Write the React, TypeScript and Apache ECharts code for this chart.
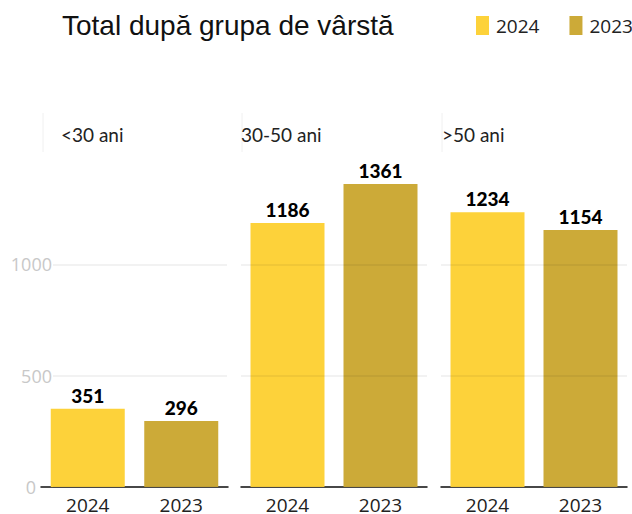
import React, { useEffect, useRef } from "react";
import * as echarts from "echarts";

const title = "Total după grupa de vârstă";
const years = ["2024", "2023"];
const panels = ["<30 ani", "30-50 ani", ">50 ani"];
const values2024 = [351, 1186, 1234];
const values2023 = [296, 1361, 1154];
const yScale = { min: 0, max: 1500, interval: 500 };
const yTickScale = { min: 0, max: 1000, interval: 500 };

const C2024 = "#FDD23A";
const C2023 = "#CCAA38";

export default function App() {
  const ref = useRef<HTMLDivElement>(null);
  useEffect(() => {
    if (!ref.current) return;
    const chart = echarts.init(ref.current, null, { renderer: "svg" });
    const lefts = [41, 241, 441];
    const widths = [187, 186, 186];
    const top = 153;
    const bottom = 27;
    const plotH = 514 - top - bottom;
    const tickTop = top + plotH * (1 - yTickScale.max / yScale.max);
    const grids: any[] = [];
    const xAxes: any[] = [];
    const yAxes: any[] = [];
    const series: any[] = [];
    const graphics: any[] = [];
    panels.forEach((p, i) => {
      grids.push({ left: lefts[i], width: widths[i], top, bottom, containLabel: false });
      xAxes.push({
        type: "category",
        gridIndex: i,
        data: years,
        axisLine: { lineStyle: { color: "#111", width: 1.5 } },
        axisTick: { show: false },
        axisLabel: { color: "#222", fontSize: 19, fontFamily: "Open Sans", margin: 8 },
      });
      yAxes.push({
        type: "value",
        gridIndex: i,
        ...yScale,
        axisLabel: { show: false },
        axisLine: { show: false },
        axisTick: { show: false },
        splitLine: { show: false },
      });
      const lbl = {
        show: true,
        position: "top",
        distance: 4,
        color: "#000",
        fontSize: 19,
        fontWeight: 900,
        fontFamily: "Lato",
      };
      series.push({
        name: years[0],
        type: "bar",
        xAxisIndex: i,
        yAxisIndex: i,
        stack: "p" + i,
        barWidth: 74,
        itemStyle: { color: C2024 },
        label: lbl,
        data: [values2024[i], "-"],
      });
      series.push({
        name: years[1],
        type: "bar",
        xAxisIndex: i,
        yAxisIndex: i,
        stack: "p" + i,
        barWidth: 74,
        itemStyle: { color: C2023 },
        label: lbl,
        data: ["-", values2023[i]],
      });
      const lx = [43, 242, 442][i];
      graphics.push({
        type: "line",
        shape: { x1: lx, y1: 113, x2: lx, y2: 152 },
        style: { stroke: "#f0f0f0", lineWidth: 1 },
      });
      graphics.push({
        type: "text",
        x: [61, 241, 442][i],
        y: 134,
        style: {
          text: p,
          fill: "#222",
          font: "19px Lato",
          textVerticalAlign: "middle",
        },
      });
    });
    // gridline-only grids (drawn above the bars)
    const gl = [
      { left: 53, width: 174 },
      { left: 241, width: 186 },
      { left: 441, width: 186 },
    ];
    gl.forEach((g, k) => {
      const gi = grids.length;
      grids.push({ left: g.left, width: g.width, top: tickTop, bottom });
      xAxes.push({ type: "category", gridIndex: gi, data: years, show: false });
      yAxes.push({
        type: "value",
        gridIndex: gi,
        ...yTickScale,
        z: 5,
        axisLine: { show: false },
        axisTick: { show: false },
        axisLabel: {
          show: k === 0,
          color: "#c8c8c8",
          fontSize: 18,
          fontFamily: "Open Sans",
          margin: 1,
          formatter: (v: number) => (v === 0 ? "{z|0}" : String(v)),
          rich: { z: { color: "#c8c8c8", fontSize: 18, fontFamily: "Open Sans", padding: [0, 16, 0, 0] } },
        },
        splitLine: {
          show: true,
          lineStyle: { color: "rgba(0,0,0,0.07)", width: 1.5 },
        },
      });
    });
    chart.setOption({
      animation: false,
      title: {
        text: title,
        left: 62,
        top: 11,
        padding: 0,
        textStyle: { fontFamily: "Liberation Sans", fontSize: 28, fontWeight: "normal", color: "#111" },
      },
      legend: {
        data: years,
        left: 476,
        top: 16,
        width: 220,
        orient: "horizontal",
        padding: 0,
        itemWidth: 13,
        itemHeight: 19,
        itemGap: 30,
        itemStyle: { borderWidth: 0 },
        icon: "rect",
        textStyle: { fontFamily: "Open Sans", fontSize: 19, color: "#222", padding: [0, 0, 0, 2] },
      },
      grid: grids,
      xAxis: xAxes,
      yAxis: yAxes,
      series,
      graphic: graphics,
    });
    return () => chart.dispose();
  }, []);
  return (
    <div
      ref={ref}
      style={{ position: "fixed", left: 0, top: 0, width: 632, height: 514, background: "#fff" }}
    />
  );
}
